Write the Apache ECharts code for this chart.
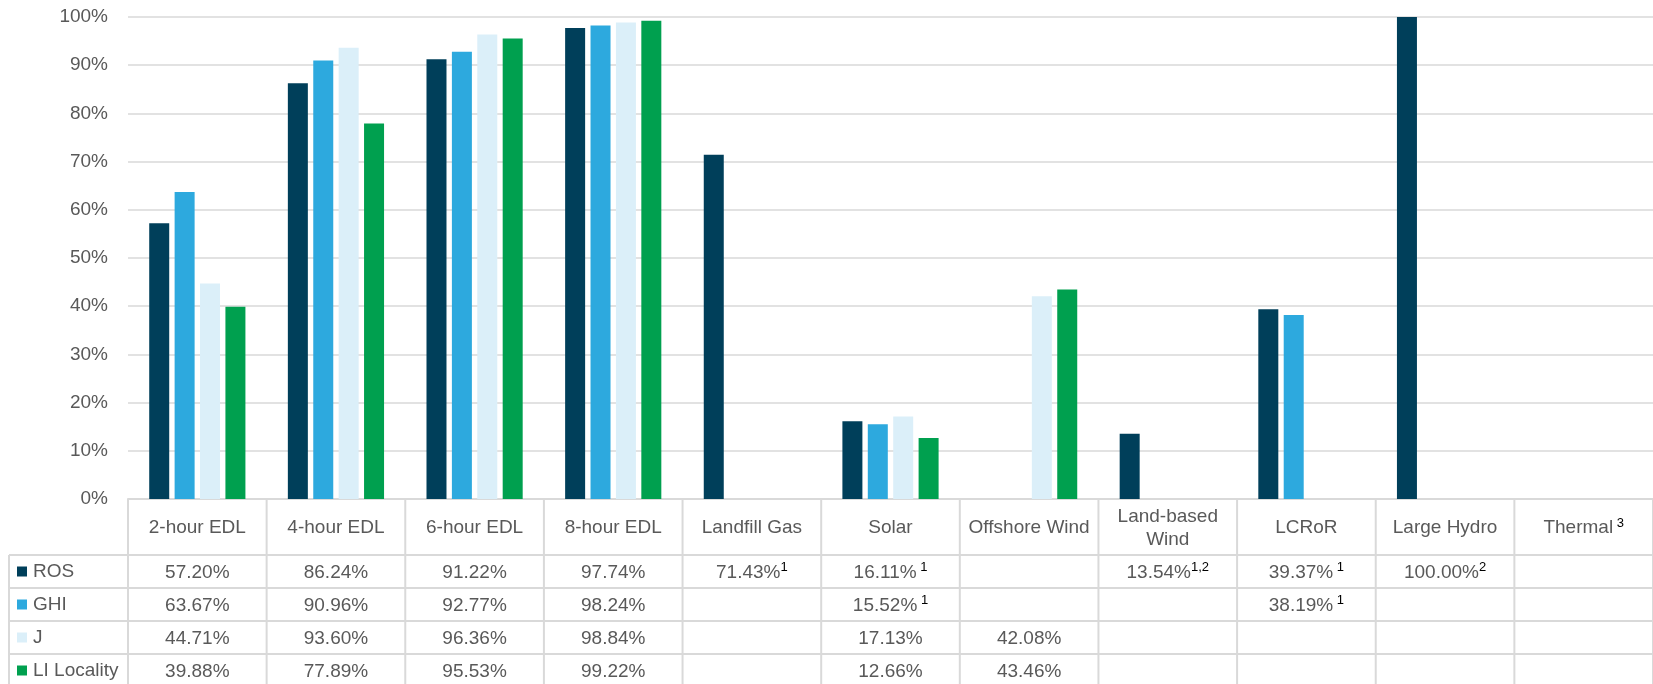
<!DOCTYPE html>
<html>
<head>
<meta charset="utf-8">
<script src="https://cdn.jsdelivr.net/npm/echarts@6/dist/echarts.min.js"></script>
<style>
  html, body { margin: 0; padding: 0; background: #fff; }
  #chart { width: 1653px; height: 684px; }
</style>
</head>
<body>
<div id="chart"></div>
<script>
// categories and table header notes
const categories = ['2-hour EDL', '4-hour EDL', '6-hour EDL', '8-hour EDL', 'Landfill Gas', 'Solar',
  'Offshore Wind', 'Land-based\nWind', 'LCRoR', 'Large Hydro', 'Thermal']
const headerNotes = ['', '', '', '', '', '', '', '', '', '', ' 3']

const seriesNames = ['ROS', 'GHI', 'J', 'LI Locality']
const seriesColors = ['#003f5a', '#2da9de', '#dbeff9', '#00a04f']

const ros = [57.20, 86.24, 91.22, 97.74, 71.43, 16.11, null, 13.54, 39.37, 100.00, null]
const ghi = [63.67, 90.96, 92.77, 98.24, null, 15.52, null, null, 38.19, null, null]
const j = [44.71, 93.60, 96.36, 98.84, null, 17.13, 42.08, null, null, null, null]
const li = [39.88, 77.89, 95.53, 99.22, null, 12.66, 43.46, null, null, null, null]

// footnote marks shown next to the table values
const rosNotes = ['', '', '', '', '1', ' 1', '', '1,2', ' 1', '2', '']
const ghiNotes = ['', '', '', '', '', ' 1', '', '', ' 1', '', '']
const jNotes = ['', '', '', '', '', '', '', '', '', '', '']
const liNotes = ['', '', '', '', '', '', '', '', '', '', '']

const yTicks = [0, 10, 20, 30, 40, 50, 60, 70, 80, 90, 100]

const allValues = [ros, ghi, j, li]
const allNotes = [rosNotes, ghiNotes, jNotes, liNotes]

const FONT = '"Liberation Sans", Arial, sans-serif'
const TEXT_COLOR = '#595959'
const LINE_COLOR = '#d9d9d9'

const chart = echarts.init(document.getElementById('chart'))

const option = {
  animation: false,
  textStyle: { fontFamily: FONT },
  grid: { left: 128, right: -9, top: 17, bottom: 185 },
  xAxis: {
    type: 'category',
    data: categories,
    axisTick: { show: false },
    axisLabel: { show: false },
    axisLine: { lineStyle: { color: LINE_COLOR, width: 2 } }
  },
  yAxis: {
    type: 'value',
    min: yTicks[0],
    max: yTicks[yTicks.length - 1],
    interval: 10,
    axisLine: { show: false },
    axisTick: { show: false },
    axisLabel: { formatter: '{value}%', color: TEXT_COLOR, fontSize: 19, margin: 20, fontFamily: FONT },
    splitLine: { lineStyle: { color: LINE_COLOR, width: 1.5 } }
  },
  series: seriesNames.map(function (name, i) {
    return {
      name: name,
      type: 'bar',
      data: allValues[i],
      barWidth: 20,
      barGap: '27%',
      itemStyle: { color: seriesColors[i] }
    }
  })
}
chart.setOption(option)

// data table under the plot
function buildTable() {
  const c0 = chart.convertToPixel({ xAxisIndex: 0 }, 0)
  const c1 = chart.convertToPixel({ xAxisIndex: 0 }, 1)
  const colW = c1 - c0
  const left = c0 - colW / 2
  const top = chart.convertToPixel({ yAxisIndex: 0 }, 0)
  const headH = 56
  const rowH = 33
  const legendLeft = 9
  const right = left + colW * categories.length
  const bottom = top + headH + rowH * 4 + 4
  const els = []
  const lineStyle = { stroke: LINE_COLOR, lineWidth: 2 }

  // horizontal lines
  for (let r = 0; r <= 4; r++) {
    const y = top + headH + r * rowH
    els.push({ type: 'line', shape: { x1: legendLeft, y1: y, x2: right, y2: y }, style: lineStyle, z: 10 })
  }
  // vertical lines
  for (let c = 0; c <= categories.length; c++) {
    const x = left + c * colW
    els.push({ type: 'line', shape: { x1: x, y1: top, x2: x, y2: bottom }, style: lineStyle, z: 10 })
  }
  els.push({ type: 'line', shape: { x1: legendLeft, y1: top + headH, x2: legendLeft, y2: bottom }, style: lineStyle, z: 10 })

  const rich = {
    v: { fontSize: 19, fontFamily: FONT, fill: TEXT_COLOR, lineHeight: 23 },
    s: { fontSize: 13, fontFamily: FONT, fill: '#000', verticalAlign: 'top', lineHeight: 23, padding: [0, 0, 6, 0] }
  }

  // header
  categories.forEach(function (cat, c) {
    const x = left + c * colW + colW / 2
    const lines = cat.split('\n')
    const txt = lines.map(function (l, k) {
      return '{v|' + l + '}' + (k === lines.length - 1 && headerNotes[c] ? '{s|' + headerNotes[c] + '}' : '')
    }).join('\n')
    els.push({
      type: 'text', z: 11,
      style: { text: txt, x: x, y: top + headH / 2 + 1, align: 'center', verticalAlign: 'middle', fill: TEXT_COLOR, rich: rich }
    })
  })

  // rows
  seriesNames.forEach(function (name, r) {
    const cy = top + headH + r * rowH + rowH / 2
    els.push({ type: 'rect', z: 11, shape: { x: 17, y: cy - 5, width: 10, height: 10 }, style: { fill: seriesColors[r] } })
    els.push({
      type: 'text', z: 11,
      style: { text: name, x: 33, y: cy, align: 'left', verticalAlign: 'middle', font: '19px ' + FONT, fill: TEXT_COLOR }
    })
    allValues[r].forEach(function (v, c) {
      if (v === null) return
      const x = left + c * colW + colW / 2
      const note = allNotes[r][c]
      els.push({
        type: 'text', z: 11,
        style: {
          text: '{v|' + v.toFixed(2) + '%}' + (note ? '{s|' + note + '}' : ''),
          x: x, y: cy + 1, align: 'center', verticalAlign: 'middle', fill: TEXT_COLOR, rich: rich
        }
      })
    })
  })
  chart.setOption({ graphic: { elements: els } })
}
buildTable()
</script>
</body>
</html>
